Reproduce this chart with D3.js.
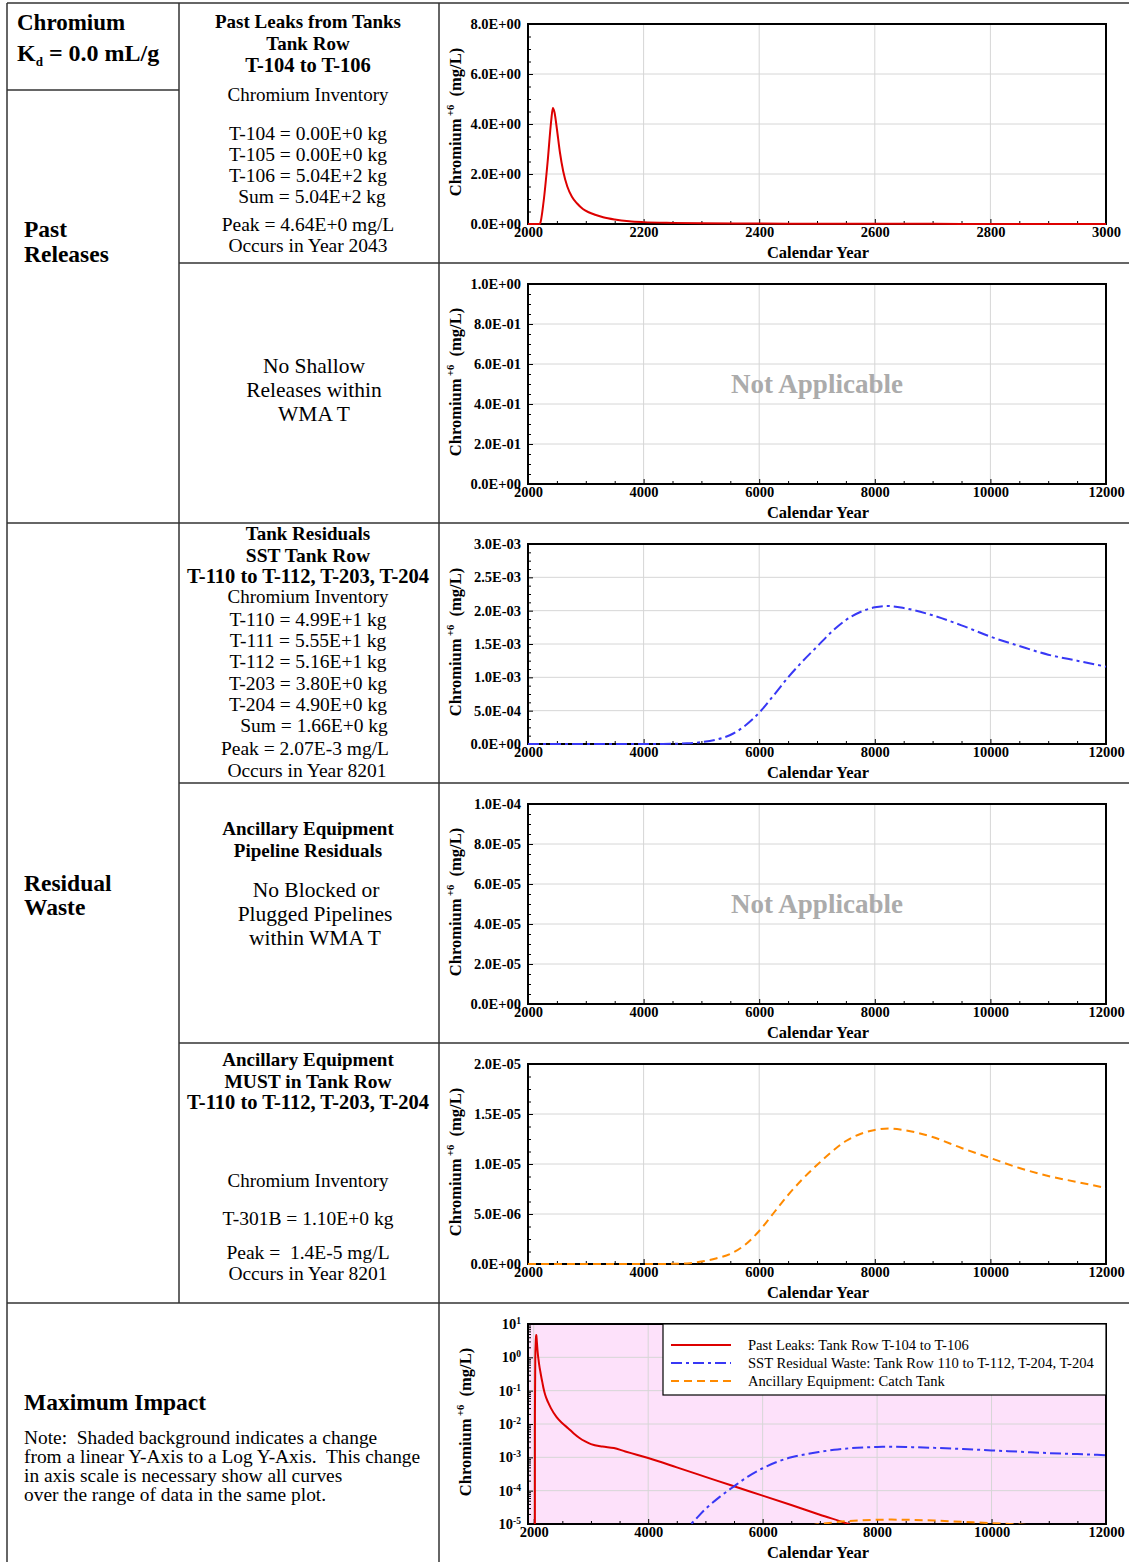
<!DOCTYPE html>
<html>
<head>
<meta charset="utf-8">
<script src="https://cdn.jsdelivr.net/npm/d3@7"></script>
<style>
  body { margin: 0; background: #fff; }
  text { font-family: "Liberation Serif", "Times New Roman", Times, serif; white-space: pre; }
</style>
</head>
<body>
<div id="chart"></div>
<script>
// concentration curves, [calendar year, mg/L]
const pastLeaks = [
    [2000, 0], [2018, 0], [2020, 1e-6], [2021, 0.02], [2027, 0.9], [2034, 2.5], [2040, 4.1],
    [2043, 4.64], [2046, 4.45], [2050, 3.8], [2055, 2.9], [2061, 2.1], [2068, 1.5], [2076, 1.09],
    [2085, 0.82], [2095, 0.6], [2105, 0.47], [2116, 0.37], [2130, 0.27], [2150, 0.18],
    [2175, 0.11], [2200, 0.075], [2250, 0.045], [2300, 0.03],
    [2400, 0.016], [2500, 0.0105], [2600, 0.0075], [2700, 0.0052], [2800, 0.0038], [2900, 0.003],
    [3000, 0.0025], [3200, 0.0021], [3400, 0.0019], [3600, 0.0015], [3800, 0.0012], [4000, 0.00095],
    [4500, 0.0005], [5000, 0.00026], [5500, 0.000135], [6000, 0.000071], [6500, 0.000037],
    [7000, 0.000019], [7500, 0.00001], [8000, 0.0000048], [9000, 0.000001], [10000, 0.0000002],
    [12000, 0.00000001]
];

const sstResidual = [
    [2000, 0], [3000, 0], [4000, 1e-7], [4250, 1e-6], [4500, 4e-6], [4750, 1e-5], [5000, 2.8e-5],
    [5250, 6.5e-5], [5500, 1.35e-4], [5750, 2.7e-4], [6000, 4.7e-4], [6250, 7.3e-4], [6500, 1.0e-3],
    [6750, 1.24e-3], [7000, 1.46e-3], [7250, 1.68e-3], [7500, 1.86e-3], [7750, 1.98e-3], [8000, 2.05e-3],
    [8200, 2.07e-3], [8500, 2.04e-3], [9000, 1.93e-3], [9500, 1.78e-3], [10000, 1.61e-3],
    [10500, 1.47e-3], [11000, 1.34e-3], [11500, 1.25e-3], [12000, 1.16e-3]
];

const ancillaryMust = [
    [2000, 0], [4000, 0], [4500, 1.5e-8], [4800, 8e-8], [5000, 2.5e-7], [5250, 5.5e-7],
    [5500, 1.0e-6], [5750, 1.9e-6], [6000, 3.3e-6], [6250, 5.1e-6], [6500, 6.9e-6], [6750, 8.5e-6],
    [7000, 9.9e-6], [7250, 1.12e-5], [7500, 1.23e-5], [7750, 1.30e-5], [8000, 1.34e-5],
    [8250, 1.355e-5], [8500, 1.34e-5], [9000, 1.27e-5], [9500, 1.16e-5], [10000, 1.06e-5],
    [10500, 9.6e-6], [11000, 8.8e-6], [11500, 8.2e-6], [12000, 7.6e-6]
];

const shortYearTicks = [2000, 2200, 2400, 2600, 2800, 3000];
const longYearTicks = [2000, 4000, 6000, 8000, 10000, 12000];

const leakTicks = [0, 2, 4, 6, 8];
const shallowTicks = [0, 0.2, 0.4, 0.6, 0.8, 1.0];
const residualTicks = [0, 5e-4, 1e-3, 1.5e-3, 2e-3, 2.5e-3, 3e-3];
const pipelineTicks = [0, 2e-5, 4e-5, 6e-5, 8e-5, 1e-4];
const mustTicks = [0, 5e-6, 1e-5, 1.5e-5, 2e-5];
const logTicks = [1e-5, 1e-4, 1e-3, 1e-2, 1e-1, 1, 10];

const legendLabels = [
    "Past Leaks: Tank Row T-104 to T-106",
    "SST Residual Waste: Tank Row 110 to T-112, T-204, T-204",
    "Ancillary Equipment: Catch Tank"
];

document.addEventListener("DOMContentLoaded", function(event) {

    let width = 1129, height = 1562;
    let plotLeft = 528, plotRight = 1106, plotH = 200;
    let gridColor = "#d6d6d6";

    let styles = {
        leaks: { color: "#dd0000", dash: null },
        sst: { color: "#3838f5", dash: "11,4,3,4" },
        must: { color: "#ff8a00", dash: "8,5" }
    };

    let svg = d3.select("#chart")
        .append("svg")
            .attr("width", width)
            .attr("height", height);

    svg.append("rect").attr("width", width).attr("height", height).attr("fill", "#fff");

    function expLabel(v) {
        if (v === 0) return "0.0E+00";
        let [m, e] = v.toExponential(1).split("e");
        let n = +e;
        return m + "E" + (n < 0 ? "-" : "+") + String(Math.abs(n)).padStart(2, "0");
    }

    function styleAxisText(a) {
        a.select(".domain").remove();
        a.selectAll("text")
            .attr("font-size", 14.5)
            .attr("font-weight", "bold")
            .attr("font-family", null)
            .attr("fill", "#000");
        a.selectAll("line").attr("stroke", "#000");
    }

    // text line, y is the visual middle of the line
    function label(sel, x, y, str, size, bold, anchor) {
        return sel.append("text")
            .attr("x", x)
            .attr("y", y + 0.34 * size)
            .attr("font-size", size)
            .attr("font-weight", bold ? "bold" : "normal")
            .attr("text-anchor", anchor || "middle")
            .text(str);
    }

    let panels = [
        { top: 24, xDomain: [2000, 3000], xTicks: shortYearTicks, xMinor: 50, yTicks: leakTicks, series: [[pastLeaks, styles.leaks]] },
        { top: 284, xDomain: [2000, 12000], xTicks: longYearTicks, xMinor: 500, yTicks: shallowTicks, series: [], na: true },
        { top: 544, xDomain: [2000, 12000], xTicks: longYearTicks, xMinor: 500, yTicks: residualTicks, series: [[sstResidual, styles.sst]] },
        { top: 804, xDomain: [2000, 12000], xTicks: longYearTicks, xMinor: 500, yTicks: pipelineTicks, series: [], na: true },
        { top: 1064, xDomain: [2000, 12000], xTicks: longYearTicks, xMinor: 500, yTicks: mustTicks, series: [[ancillaryMust, styles.must]] },
        { top: 1324, xDomain: [1900, 12000], xTicks: longYearTicks, xMinor: 500, yTicks: logTicks, log: true,
          series: [[pastLeaks, styles.leaks], [sstResidual, styles.sst], [ancillaryMust, styles.must]] }
    ];

    panels.forEach(function(p, i) {
        let top = p.top, bottom = p.top + plotH;
        let x = d3.scaleLinear().domain(p.xDomain).range([plotLeft, plotRight]);
        let y = p.log
            ? d3.scaleLog().domain([1e-5, 10]).range([bottom, top])
            : d3.scaleLinear().domain(d3.extent(p.yTicks)).range([bottom, top]);

        let g = svg.append("g");

        if (p.log) {
            g.append("rect")
                .attr("x", plotLeft).attr("y", top)
                .attr("width", plotRight - plotLeft).attr("height", plotH)
                .attr("fill", "#fde1fa");
        }

        // grid
        g.selectAll(null)
            .data(p.xTicks.filter(t => x(t) > plotLeft + 1 && x(t) < plotRight - 1))
            .enter().append("line")
                .attr("x1", d => x(d)).attr("x2", d => x(d))
                .attr("y1", top).attr("y2", bottom)
                .attr("stroke", gridColor);
        g.selectAll(null)
            .data(p.yTicks.filter(t => y(t) > top + 1 && y(t) < bottom - 1))
            .enter().append("line")
                .attr("x1", plotLeft).attr("x2", plotRight)
                .attr("y1", d => y(d)).attr("y2", d => y(d))
                .attr("stroke", gridColor);

        // minor ticks
        let xMinor = d3.range(p.xTicks[0], p.xTicks[p.xTicks.length - 1], p.xMinor)
            .filter(v => !p.xTicks.includes(v));
        let yMinor;
        if (p.log) {
            yMinor = y.ticks().filter(v => !logTicks.some(t => Math.abs(t - v) / t < 1e-6));
        } else {
            let step = (p.yTicks[1] - p.yTicks[0]) / 4;
            yMinor = d3.range(0, p.yTicks[p.yTicks.length - 1], step)
                .filter((v, k) => k % 4 !== 0);
        }

        g.append("g")
            .attr("transform", "translate(0," + bottom + ")")
            .call(d3.axisBottom(x).tickValues(xMinor).tickSize(-3).tickFormat(""))
            .call(styleAxisText);
        g.append("g")
            .attr("transform", "translate(" + plotLeft + ",0)")
            .call(d3.axisLeft(y).tickValues(yMinor).tickSize(-3).tickFormat(""))
            .call(styleAxisText);

        // major ticks + labels
        g.append("g")
            .attr("transform", "translate(0," + bottom + ")")
            .call(d3.axisBottom(x).tickValues(p.xTicks).tickSize(-5).tickPadding(3).tickFormat(d3.format("d")))
            .call(styleAxisText);

        let yAxis = g.append("g")
            .attr("transform", "translate(" + plotLeft + ",0)")
            .call(d3.axisLeft(y).tickValues(p.yTicks).tickSize(-5).tickPadding(7)
                .tickFormat(p.log ? () => "10" : expLabel))
            .call(styleAxisText);

        if (p.log) {
            yAxis.selectAll(".tick text")
                .append("tspan")
                    .attr("dy", "-0.55em")
                    .attr("font-size", 9.5)
                    .text(d => Math.round(Math.log10(d)));
        }

        // frame
        g.append("rect")
            .attr("x", plotLeft).attr("y", top)
            .attr("width", plotRight - plotLeft).attr("height", plotH)
            .attr("fill", "none")
            .attr("stroke", "#000")
            .attr("stroke-width", 2);

        // curves, drawn over the frame so zero values show on the axis
        let clipId = "clip" + i;
        let pad = p.log ? 0 : 2;
        svg.append("clipPath").attr("id", clipId)
            .append("rect")
                .attr("x", plotLeft).attr("y", top)
                .attr("width", plotRight - plotLeft).attr("height", plotH + pad);

        let line = d3.line()
            .defined(d => !p.log || d[1] > 0)
            .x(d => x(d[0]))
            .y(d => y(d[1]))
            .curve(d3.curveMonotoneX);

        p.series.forEach(function(s) {
            g.append("path")
                .datum(s[0])
                .attr("clip-path", "url(#" + clipId + ")")
                .attr("fill", "none")
                .attr("stroke", s[1].color)
                .attr("stroke-width", 2)
                .attr("stroke-dasharray", s[1].dash)
                .attr("d", line);
        });

        if (p.na) {
            label(g, (plotLeft + plotRight) / 2, (top + bottom) / 2, "Not Applicable", 27, true)
                .attr("fill", "#ababab");
        }

        // axis titles
        let titleX = p.log ? 471 : 461;
        let yt = g.append("text")
            .attr("transform", "translate(" + titleX + "," + ((top + bottom) / 2 - 2) + ") rotate(-90)")
            .attr("text-anchor", "middle")
            .attr("font-size", 16.5)
            .attr("font-weight", "bold");
        yt.append("tspan").text("Chromium");
        yt.append("tspan").attr("dy", -7).attr("font-size", 10.5).text(" +6");
        yt.append("tspan").attr("dy", 7).text("  (mg/L)");

        label(g, (plotLeft + plotRight) / 2 + 1, bottom + 28, "Calendar Year", 16.5, true);

        if (p.log) {
            let lg = g.append("g");
            let lx = 663, ly = top;
            lg.append("rect")
                .attr("x", lx).attr("y", ly)
                .attr("width", plotRight - lx).attr("height", 71)
                .attr("fill", "#fff")
                .attr("stroke", "#000")
                .attr("stroke-width", 1.2);
            p.series.forEach(function(s, k) {
                let yy = ly + 21 + k * 18;
                lg.append("line")
                    .attr("x1", lx + 8).attr("x2", lx + 68)
                    .attr("y1", yy).attr("y2", yy)
                    .attr("stroke", s[1].color)
                    .attr("stroke-width", 2)
                    .attr("stroke-dasharray", s[1].dash);
                label(lg, lx + 85, yy, legendLabels[k], 14.6, false, "start");
            });
        }
    });

    // table rules
    let rules = [
        [7, 3, 1129, 3], [7, 3, 7, 1562], [179, 3, 179, 1303], [439, 3, 439, 1562],
        [7, 90, 179, 90], [179, 263, 1129, 263], [7, 523, 1129, 523],
        [179, 783, 1129, 783], [179, 1043, 1129, 1043], [7, 1303, 1129, 1303]
    ];
    svg.selectAll(null)
        .data(rules)
        .enter().append("line")
            .attr("x1", d => d[0]).attr("y1", d => d[1])
            .attr("x2", d => d[2]).attr("y2", d => d[3])
            .attr("stroke", "#333")
            .attr("stroke-width", 1.5);

    // left column
    label(svg, 17, 22, "Chromium", 23, true, "start");
    let kd = svg.append("text")
        .attr("x", 17).attr("y", 53 + 0.34 * 24)
        .attr("font-size", 24).attr("font-weight", "bold");
    kd.append("tspan").text("K");
    kd.append("tspan").attr("font-size", 13).attr("dy", 5).text("d");
    kd.append("tspan").attr("dy", -5).text(" = 0.0 mL/g");

    label(svg, 24, 229, "Past", 23.5, true, "start");
    label(svg, 24, 254, "Releases", 23.5, true, "start");
    label(svg, 24, 883, "Residual", 23.5, true, "start");
    label(svg, 24, 907, "Waste", 23.5, true, "start");
    label(svg, 24, 1402, "Maximum Impact", 23.5, true, "start");

    let note = [
        "Note:  Shaded background indicates a change",
        "from a linear Y-Axis to a Log Y-Axis.  This change",
        "in axis scale is necessary show all curves",
        "over the range of data in the same plot."
    ];
    note.forEach((t, k) => label(svg, 24, 1437 + k * 19, t, 19.4, false, "start"));

    // middle column descriptions: [y, text, bold, size, x]
    let blocks = [
        [22, "Past Leaks from Tanks", 1, 19], [44, "Tank Row", 1, 19], [65, "T-104 to T-106", 1, 20.5],
        [95, "Chromium Inventory", 0, 19],
        [133, "T-104 = 0.00E+0 kg"], [154, "T-105 = 0.00E+0 kg"], [175, "T-106 = 5.04E+2 kg"],
        [196, "Sum = 5.04E+2 kg", 0, 19.5, 312],
        [224, "Peak = 4.64E+0 mg/L"], [245, "Occurs in Year 2043"],

        [366, "No Shallow", 0, 21.5, 314], [390, "Releases within", 0, 21.5, 314], [414, "WMA T", 0, 21.5, 314],

        [534, "Tank Residuals", 1, 19], [555, "SST Tank Row", 1, 19.5], [576, "T-110 to T-112, T-203, T-204", 1, 20.5],
        [597, "Chromium Inventory", 0, 19],
        [619, "T-110 = 4.99E+1 kg"], [640, "T-111 = 5.55E+1 kg"], [661, "T-112 = 5.16E+1 kg"],
        [683, "T-203 = 3.80E+0 kg"], [704, "T-204 = 4.90E+0 kg"],
        [725, "Sum = 1.66E+0 kg", 0, 19.5, 314],
        [748, "Peak = 2.07E-3 mg/L", 0, 19.5, 305], [770, "Occurs in Year 8201", 0, 19.5, 307],

        [829, "Ancillary Equipment", 1, 19], [851, "Pipeline Residuals", 1, 19],
        [890, "No Blocked or", 0, 21.5, 316], [914, "Plugged Pipelines", 0, 21.5, 315], [938, "within WMA T", 0, 21.5, 315],

        [1060, "Ancillary Equipment", 1, 19], [1081, "MUST in Tank Row", 1, 19.5], [1102, "T-110 to T-112, T-203, T-204", 1, 20.5],
        [1181, "Chromium Inventory", 0, 19],
        [1218, "T-301B = 1.10E+0 kg"],
        [1252, "Peak =  1.4E-5 mg/L"], [1273, "Occurs in Year 8201"]
    ];
    blocks.forEach(function(b) {
        label(svg, b[4] || 308, b[0], b[1], b[3] || 19.5, !!b[2]);
    });

});
</script>
</body>
</html>
